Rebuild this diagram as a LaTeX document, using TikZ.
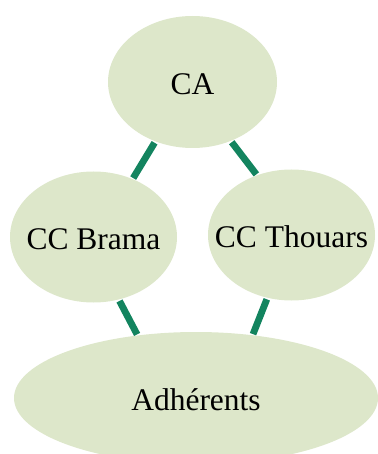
\documentclass[tikz,border=0pt]{standalone}
\usepackage{fontspec}
\setmainfont{Liberation Serif}
\usetikzlibrary{shapes.geometric}
\definecolor{nodefill}{HTML}{DDE7CA}
\definecolor{edgecol}{HTML}{13845F}
\tikzset{
  bubble/.style={ellipse, fill=nodefill, inner sep=0pt},
  caption/.style={font=\fontsize{31.5}{36}\selectfont, inner sep=0pt, anchor=base},
  link/.style={draw=edgecol, line width=6.8pt, shorten <=1.5pt, shorten >=1pt}
}
\begin{document}
\begin{tikzpicture}[x=1pt,y=-1pt]
\useasboundingbox (0,0) rectangle (377,454);
\node[bubble, minimum width=169pt, minimum height=132pt] (ca) at (192.5,82) {};
\node[bubble, minimum width=167pt, minimum height=131pt] (brama) at (93.5,237) {};
\node[bubble, minimum width=167pt, minimum height=131pt] (thouars) at (291.5,235) {};
\node[bubble, minimum width=364pt, minimum height=132pt] (adh) at (196,398) {};
\node[caption] (catext) at ([yshift=-12.5pt]ca.center) {CA};
\node[caption] (bramatext) at ([yshift=-12.5pt]brama.center) {CC Brama};
\node[caption] (thouarstext) at ([yshift=-12.5pt]thouars.center) {CC Thouars};
\node[caption] (adhtext) at ([yshift=-12pt]adh.center) {Adhérents};
\draw[link] (ca.238.8) -- (brama.56.9);
\draw[link] (ca.303.6) -- (thouars.120.6);
\draw[link] (brama.292) -- (adh.133.6);
\draw[link] (thouars.249.5) -- (adh.48.3);
\end{tikzpicture}
\end{document}
